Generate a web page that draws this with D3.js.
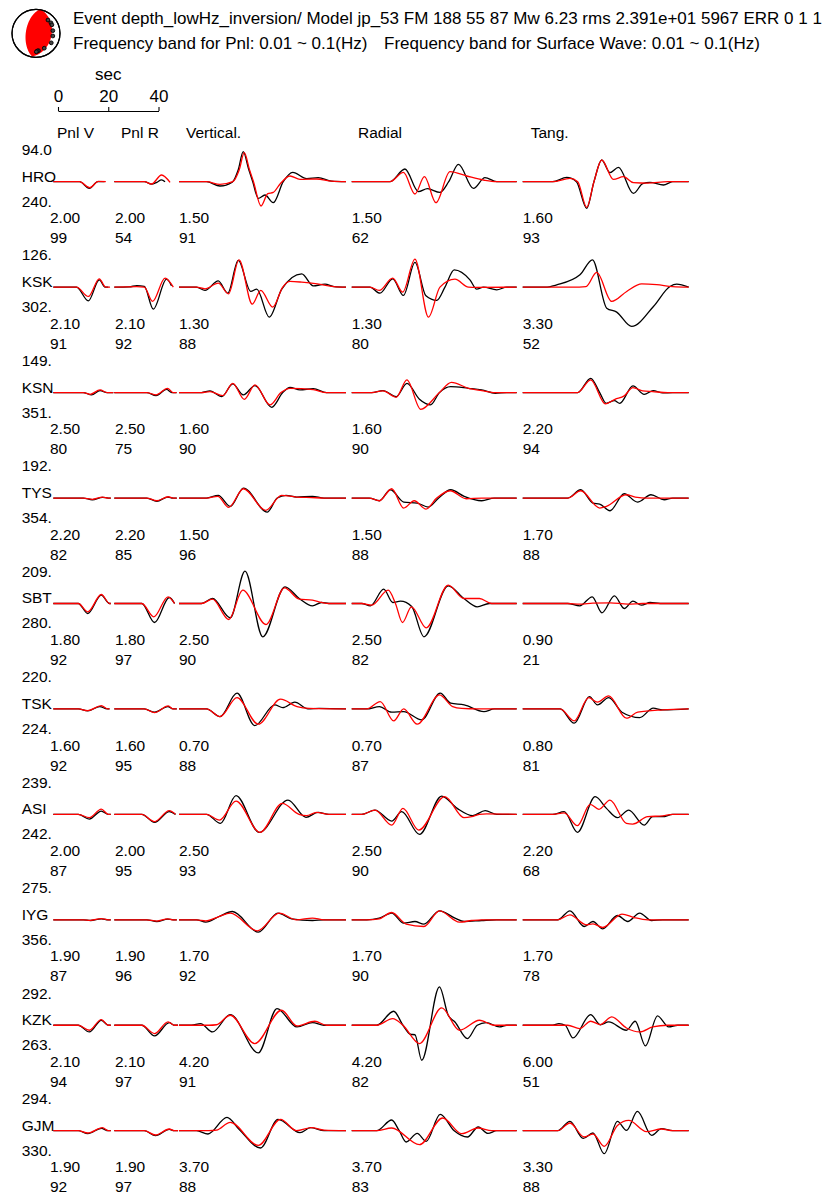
<!DOCTYPE html>
<html>
<head>
<meta charset="utf-8">
<script src="https://cdn.jsdelivr.net/npm/d3@7"></script>
<style>
  body { margin: 0; background: #fff; }
  text { font-family: "Liberation Sans", Arial, Helvetica, sans-serif; fill: #000; }
</style>
</head>
<body>
<svg id="chart" width="823" height="1199"></svg>
<script>
// ---- event / header info ----
const titleLine = "Event depth_lowHz_inversion/ Model jp_53 FM 188 55 87 Mw 6.23 rms 2.391e+01 5967 ERR 0 1 1";
const bandPnl = "Frequency band for Pnl: 0.01 ~ 0.1(Hz)";
const bandSurf = "Frequency band for Surface Wave: 0.01 ~ 0.1(Hz)";
const focalMech = [188, 55, 87];            // strike, dip, rake
const stationMarks = [[42, 0.745], [55, 0.76], [62, 0.75], [81, 0.71], [99, 0.71],
                      [122, 0.75], [151, 0.71], [172, 0.73], [176, 0.74], [179, 0.77]]; // azimuth, radius fraction

// ---- time scale bar ----
const scaleTicks = [0, 20, 40];

// ---- station table ----
const components = ["Pnl V", "Pnl R", "Vertical.", "Radial", "Tang."];
const stations = ["HRO", "KSK", "KSN", "TYS", "SBT", "TSK", "ASI", "IYG", "KZK", "GJM"];
const distances = ["94.0", "126.", "149.", "192.", "209.", "220.", "239.", "275.", "292.", "294."];
const azimuths = ["240.", "302.", "351.", "354.", "280.", "224.", "242.", "356.", "263.", "330."];
const timeShifts = [
  ["2.00", "2.00", "1.50", "1.50", "1.60"],
  ["2.10", "2.10", "1.30", "1.30", "3.30"],
  ["2.50", "2.50", "1.60", "1.60", "2.20"],
  ["2.20", "2.20", "1.50", "1.50", "1.70"],
  ["1.80", "1.80", "2.50", "2.50", "0.90"],
  ["1.60", "1.60", "0.70", "0.70", "0.80"],
  ["2.00", "2.00", "2.50", "2.50", "2.20"],
  ["1.90", "1.90", "1.70", "1.70", "1.70"],
  ["2.10", "2.10", "4.20", "4.20", "6.00"],
  ["1.90", "1.90", "3.70", "3.70", "3.30"]
];
const correlations = [
  ["99", "54", "91", "62", "93"],
  ["91", "92", "88", "80", "52"],
  ["80", "75", "90", "90", "94"],
  ["82", "85", "96", "88", "88"],
  ["92", "97", "90", "82", "21"],
  ["92", "95", "88", "87", "81"],
  ["87", "95", "93", "90", "68"],
  ["87", "96", "92", "90", "78"],
  ["94", "97", "91", "82", "51"],
  ["92", "97", "88", "83", "88"]
];

// ---- waveforms: [seconds from window start, amplitude] at extrema ----
// each station: [Pnl V, Pnl R, Vertical, Radial, Tangential]
const obsHRO = [
  [[0,0],[10.5,0],[14.4,-6.7],[17.8,0],[20.5,0]],
  [[0,0],[12,0],[14.9,-2.5],[17,-0.6],[18.9,1.8],[20.3,0]],
  [[0,0],[11,0],[16.4,-4.3],[21.3,-0.5],[23.7,12],[25.7,30],[27.8,13],[29.5,0],[31.7,-16.7],[34.4,-13.3],[37.7,-21],[41.7,0],[45.5,9.3],[51.1,3],[55.7,4],[61,0.5],[66.8,0]],
  [[0,0],[15.3,0],[21.3,12.7],[26.7,-10],[30.3,-7],[35.3,-10.7],[38.8,0],[42.7,17.3],[48.7,-6.7],[53.3,4],[58,0],[66,0]],
  [[0,0],[12,0],[17.6,4.3],[21.5,0],[25.6,-26.7],[28.5,0],[31.6,21.7],[34.9,9],[38.3,14.3],[44.3,-11.7],[48,-2],[50.9,-0.7],[56.3,-3.3],[60,0],[66.4,0]]
];
const synHRO = [
  [[0,0],[10.5,0],[14.6,-6],[18,0.3],[21,0]],
  [[0,0],[12,0],[14.9,-2.3],[18.9,6.7],[22.3,-0.7]],
  [[0,0],[11,0],[16.4,-2.7],[21.5,0],[24.1,12],[26.1,29],[28.2,12],[29.8,0],[32.8,-24.3],[35.5,-12],[37.7,-10.7],[40.5,-2],[44.4,5.7],[48.4,2.3],[55.1,2.7],[61,0.5],[66.8,0]],
  [[0,0],[15.3,0],[20.7,9.3],[25.3,-12.3],[29.1,5],[33.7,-21],[39.3,10],[46,5.7],[52.7,1.7],[58,0],[66,0]],
  [[0,0],[12,0],[18.9,3.3],[22,0],[25.6,-25.7],[28.5,0],[31.6,21.7],[36.3,2.3],[40.3,5],[44.3,-1],[50,-1.5],[58,0],[66.4,0]]
];
const obsKSK = [
  [[0,0],[9.3,0],[14,-13.7],[18.4,7.3],[20.7,0],[22,0]],
  [[0,0],[6,0.3],[9,1.5],[12,0.8],[15.6,-22],[20.9,8],[22.9,1.3]],
  [[0,0],[7,0],[10.4,-3.3],[15.7,6.3],[19.5,-6],[23.7,26.7],[28.7,-4.3],[31.1,-2],[36.1,-30],[41.1,-2],[49.1,13.3],[53.7,1.3],[58.4,3],[62,0.5],[66.8,0]],
  [[0,0],[7.3,0],[11.3,-6],[16.4,8.3],[20.7,-8.3],[25.3,24.7],[29.7,-8.7],[34,-13.3],[37.3,0],[41,17.3],[47.3,7.3],[50,-2],[52.7,0],[58,-2.7],[62,0],[66,0]],
  [[0,0],[9,0],[13.6,2.3],[22.9,12.3],[27.9,27.3],[33.6,-21],[37.6,-25],[43.6,-39.3],[52.3,-19.3],[58.9,0.7],[61.6,3],[66.4,0]]
];
const synKSK = [
  [[0,0],[9.3,0],[14,-9.3],[18.4,8.3],[21,0],[22.7,0]],
  [[0,0],[9,0.5],[12,0],[15.3,-14.3],[20.3,9],[23.6,0]],
  [[0,0],[7,0],[10.4,-1.7],[15.7,4],[19.8,-6.7],[24,27.3],[29.3,-17],[32.7,-3.3],[37.5,-20],[41.5,0],[44.4,5.7],[49.1,5],[55.3,3.3],[62,0.5],[66.8,0]],
  [[0,0],[7.3,0],[11,-3.3],[16.4,9],[20.4,-5],[25.3,28],[30.7,-30],[35.3,0],[41.3,8],[46.7,0],[50,-0.3],[66,0]],
  [[0,0],[20,0],[25.3,0.5],[29.6,14.7],[35.6,-14.3],[41.6,-4.3],[47.6,3.3],[53.6,2.5],[60,0.5],[66.4,0]]
];
const obsKSN = [
  [[0,0],[12,0],[15.3,-2.3],[18.7,2],[21.5,0],[24,0]],
  [[0,0],[13,0],[16.7,-3],[20.9,3.3],[23,0],[24.9,0]],
  [[0,0],[9,0],[12.4,1.7],[17.1,-4],[21.5,8.7],[25.7,-2.3],[30.4,7],[37.1,-14.7],[41.5,0],[44.4,5.3],[48.4,2.7],[53.7,4],[59,0],[66.8,0]],
  [[0,0],[8,0],[12.5,2],[17.8,-4],[22.1,9.3],[27.1,-6.7],[31.5,-12.3],[35.1,0],[39.6,6],[46.7,4.3],[52,2.7],[57.4,-0.7],[62,0],[66,0]],
  [[0,0],[22,0],[27.2,14.3],[30.8,0],[33.4,-10.7],[36.7,-8],[38.8,-10.7],[44.1,6.7],[48.6,-1.7],[52.2,2],[56,-0.3],[60,0],[66.4,0]]
];
const synKSN = [
  [[0,0],[12,0],[14.7,-1.7],[18.7,2.7],[21.5,0],[24,0]],
  [[0,0],[13,0],[16.7,-2.3],[21.3,4.3],[23.5,0],[24.9,0]],
  [[0,0],[9,0],[12.4,1],[17.5,-3],[21.5,9.3],[26.1,-6.7],[30.4,7.7],[36.4,-12.3],[40.8,0],[44.4,4.3],[53.7,3],[59,0],[66.8,0]],
  [[0,0],[8,0],[12.5,1.7],[17.8,-4.7],[22.1,12.7],[27.6,-16.7],[35.1,0],[39.9,10.3],[46.7,4.3],[52,2],[57.4,0],[66,0]],
  [[0,0],[22,0],[27.2,12.7],[33.1,-11.3],[36.9,-6.7],[40.6,-3.3],[44.1,5],[48,1.7],[52,1],[58,0],[66.4,0]]
];
const obsTYS = [
  [[0,0],[12,0],[15.6,-1.7],[19.7,0.7],[22,0],[23,0]],
  [[0,0],[13,0],[17,-3.3],[21.4,1],[23.5,0],[25,0]],
  [[0,0],[11,0],[15.7,2.7],[20.5,-8.3],[25.8,10],[35.3,-14],[39.3,0],[42.8,2.7],[47,1],[53.4,1.7],[58,0],[66.8,0]],
  [[0,0],[7,0],[11.1,-2.7],[15.5,8.3],[20.8,-4],[26.2,-5],[30.6,-9],[34.8,0],[39.6,8.3],[45,1.7],[52,-2.7],[57,0],[66,0]],
  [[0,0],[18,0],[23.2,8.3],[28.1,-5],[30.8,-6],[34.9,-12.7],[40.6,4.3],[45.9,-4],[51.3,3.3],[56.6,-1.7],[60,0],[66.4,0]]
];
const synTYS = [
  [[0,0],[12,0],[15.6,-1.3],[19.7,1],[22,0],[23,0]],
  [[0,0],[13,0],[17,-2.7],[21.6,1.3],[23.5,0],[25,0]],
  [[0,0],[11,0],[15.5,1.7],[19.9,-9.3],[25.8,9.3],[34.7,-12.3],[41,2.7],[47,1],[53,0.5],[58,0],[66.8,0]],
  [[0,0],[7,0],[11.1,-2.7],[16,9.3],[20.8,-10],[25,-2.7],[29.7,-11],[34,0],[39.4,7.3],[45.8,-0.7],[52,0],[66,0]],
  [[0,0],[18,0],[23.2,7.3],[30.8,-10],[33.5,-8.3],[41.4,3.3],[45,1],[50,0],[66.4,0]]
];
const obsSBT = [
  [[0,0],[10,0],[13.8,-10],[19.2,8.3],[22.5,0],[23,0]],
  [[0,0],[11,0],[16.1,-19],[22,6],[24.1,0]],
  [[0,0],[9,0],[13.4,5],[20.5,-14.3],[26.4,32.3],[33.5,-33.3],[42.4,16.7],[48.1,5],[53.4,-2.3],[57,1],[60,0],[66.8,0]],
  [[0,0],[4,0],[7.5,-2.3],[12.8,14.3],[16.4,1],[19.5,2.3],[24,-3],[28.9,-33.3],[38.6,17.7],[44.9,5],[50.2,-3.3],[55,0],[66,0]],
  [[0,0],[18,0],[22.8,-2.3],[27.8,6.7],[31.7,-9.3],[36.7,7.7],[40.6,-5],[44.1,2.3],[47.5,-1.7],[51,1],[55,0],[66.4,0]]
];
const synSBT = [
  [[0,0],[10,0],[13.8,-8.3],[19.2,9],[22.5,0],[23,0]],
  [[0,0],[11,0],[15.8,-13.3],[21.5,6.7],[24.1,0]],
  [[0,0],[9,0],[13.4,4.3],[19.9,-16],[25.5,13.3],[34.8,-21],[42.2,15.7],[48.1,4.3],[53.4,3.3],[57,1],[60,0],[66.8,0]],
  [[0,0],[4,0],[8,-1.7],[14.6,13.3],[17.5,0],[20.3,-19],[23.9,-3.3],[29.8,-24.3],[38.6,18.3],[44.9,5],[51.1,5],[56,0],[66,0]],
  [[0,0],[18,0],[22.8,-0.7],[28,0.3],[35,0.7],[42,-0.7],[48,0],[66.4,0]]
];
const obsTSK = [
  [[0,0],[10,0],[13.8,-2],[18.6,2.3],[21.5,0],[22.5,0]],
  [[0,0],[12,0],[16.1,-3.3],[21.4,2.3],[23.5,0],[25,0]],
  [[0,0],[11,0],[16.4,-7.7],[23.2,15.7],[30.3,-16.7],[38.3,4],[41.5,1.3],[46.3,6.7],[51.6,0],[56,0.5],[66.8,0]],
  [[0,0],[6,0],[11.1,2.3],[16,-3.3],[20.8,-2.7],[28,-11],[35.4,15.7],[39.6,5.7],[45,4],[52.9,-2.7],[57,0],[66,0]],
  [[0,0],[15,0],[20.6,-14.3],[26.7,12.3],[29.9,4],[34.4,11.3],[39.7,-3.3],[46.8,-8.7],[52.2,0.7],[56,-1],[66.4,0]]
];
const synTSK = [
  [[0,0],[10,0],[13.8,-1.7],[19.2,3.3],[21.8,0],[22.5,0]],
  [[0,0],[12,0],[16.1,-3.7],[21.6,3],[23.5,0],[25,0]],
  [[0,0],[11,0],[16.4,-7.7],[23.2,11.3],[31.7,-15.3],[40.6,9.7],[47.2,2.3],[52,0.5],[66.8,0]],
  [[0,0],[6,0],[11.4,7.3],[16.8,-12],[20.8,0],[26.2,-15.3],[35.1,14],[40.4,2.3],[44,0.5],[50,0],[66,0]],
  [[0,0],[15,0],[20.6,-12],[26.4,11.3],[29.9,6.7],[34.4,13],[41.5,-9.3],[46,-3.3],[56,-1],[66.4,0]]
];
const obsASI = [
  [[0,0],[10,0],[14.4,-4.7],[19.2,3.3],[22,0],[23,0]],
  [[0,0],[11,0],[16.1,-8],[22,2.7],[24.5,0]],
  [[0,0],[11,0],[16.6,-9],[22.8,18.7],[32.1,-18],[43.6,14.3],[50.8,-3],[55.6,2],[60,0],[66.8,0]],
  [[0,0],[4,0],[9.3,4.3],[16,-6.7],[20,2.7],[27.1,-20],[36,18.3],[42.2,6],[48.4,-1.3],[53.4,3.7],[58,0],[66,0]],
  [[0,0],[12,0],[16.6,2.7],[21.9,-18],[29,17.7],[33.5,6],[37.9,-3.3],[42.4,4.3],[48.6,-10.7],[52,-2.3],[56,-2.3],[60,0],[66.4,0]]
];
const synASI = [
  [[0,0],[10,0],[14.4,-3.3],[19.2,5.3],[22,0],[23,0]],
  [[0,0],[11,0],[16.1,-7.3],[22,3.7],[24.5,0]],
  [[0,0],[11,0],[16.2,-5.7],[22.8,13.3],[32.4,-18],[41.3,11],[48,0],[51,-1.3],[55,2],[60,0],[66.8,0]],
  [[0,0],[4,0],[9.3,4.3],[16,-10.7],[20.5,6],[26.8,-15.7],[37.2,17.7],[44.9,-3.3],[48,-2.3],[51,0],[54,0.5],[66,0]],
  [[0,0],[12,0],[16.6,1.5],[21.9,-11.3],[27,10],[30.5,5],[34.9,14.3],[41.5,-9],[44,-9.7],[50,-2.3],[56,-1.5],[60,0],[66.4,0]]
];
const obsIYG = [
  [[0,0],[12,0],[14.9,-0.7],[19.2,1],[22,0],[23,0]],
  [[0,0],[13,0],[17,-1.7],[21.4,0.7],[23.5,0],[25,0]],
  [[0,0],[7,0],[10.7,-2.3],[16,3.3],[21.4,8.3],[31.7,-12.3],[39.6,6.7],[45,1],[53.4,-0.7],[58,0],[66.8,0]],
  [[0,0],[6,0],[11,1.7],[16,6.7],[20.8,-3.3],[25.3,-1.7],[28.9,-4.3],[35.1,9],[41.3,1.7],[45,-1.7],[52,-0.7],[58,0],[66,0]],
  [[0,0],[14,0],[18.9,9],[24.6,-6.7],[28.1,-1.7],[32,-9],[37.9,4.3],[42,-1.7],[46.8,6.7],[51.5,-0.7],[56,0],[66.4,0]]
];
const synIYG = [
  [[0,0],[12,0],[14.9,-0.5],[19.2,1.2],[22,0],[23,0]],
  [[0,0],[13,0],[17,-1.3],[21.4,1],[23.5,0],[25,0]],
  [[0,0],[7,0],[10.7,-1],[16,3.3],[20.5,6.7],[31.4,-11],[40.1,6.7],[47,0],[53.4,1.7],[58,0],[66.8,0]],
  [[0,0],[6,0],[11,1],[16,7.3],[21.8,-4.3],[28.9,-6.7],[35.1,9],[43.1,-2.3],[48,-0.7],[52,0],[66,0]],
  [[0,0],[14,0],[18.9,5],[25.4,-5],[28.1,-4],[32,-7.7],[39.7,5.7],[44.5,2.3],[50,0],[66.4,0]]
];
const obsKZK = [
  [[0,0],[10,0],[14.4,-6.7],[19.2,5],[22,0],[23,0]],
  [[0,0],[11,0],[16.1,-10.7],[22,2.7],[24,0],[25.5,0]],
  [[0,0],[5,0],[8.6,1.7],[13.4,-6.7],[20.5,10.7],[31.7,-27.7],[39.2,16.7],[47.2,-1.7],[53.4,2.7],[58,0],[66.8,0]],
  [[0,0],[10,0],[16.8,14],[20.5,0],[23.5,-9],[25.3,-9.5],[28,-35],[35.1,38.3],[38.6,10],[41.3,3.3],[46.3,-13.3],[50.2,0],[53.8,2.7],[59.1,-1.7],[62,0],[66,0]],
  [[0,0],[12,0],[14.5,1.7],[17,0],[20.1,-12.7],[27.2,10.7],[31,0.5],[34.4,3.3],[41.5,-5],[45,4],[49.1,-20.7],[53.9,9.3],[58.4,-1.7],[62,0],[66.4,0]]
];
const synKZK = [
  [[0,0],[10,0],[14.4,-5],[19.2,5.7],[22,0],[23,0]],
  [[0,0],[11,0],[16.1,-8.3],[21.5,3.3],[24,0],[25.5,0]],
  [[0,0],[12,0],[15,0.5],[20.5,10],[30.3,-18.3],[41,15],[47.2,-0.7],[54.3,4],[59,0],[66.8,0]],
  [[0,0],[10,0],[16.4,6.7],[20.5,0],[27.1,-18.3],[36,17.3],[43.1,-5],[51.1,5],[57,0],[66,0]],
  [[0,0],[18,0],[22.8,-3.3],[27.2,4],[31,0.7],[35.6,8.3],[41.5,-2.7],[46.8,-6.7],[52,-1.7],[58,0],[66.4,0]]
];
const obsGJM = [
  [[0,0],[10,0],[13.8,-3],[19.2,2.3],[22,0],[23,0]],
  [[0,0],[12,0],[16.5,-5],[22,1.3],[24,0],[25.5,0]],
  [[0,0],[7,0],[11.6,-3.3],[19.2,13.3],[24,1.5],[32.6,-17.3],[39.6,11.3],[48.4,-2],[52.6,3],[58,0],[66.8,0]],
  [[0,0],[10,0],[16,10.7],[19,0],[21.8,-11.3],[26.2,-2.7],[29.8,-10.7],[35.4,16.3],[41,0],[46.3,-6.3],[50.6,3.7],[54.5,-2.7],[58,0],[66,0]],
  [[0,0],[14,0],[18.9,9.3],[24.2,-7.7],[28.1,-2.3],[32.6,-23],[37.9,9.3],[41.5,0.3],[45.9,19.3],[51.6,-4.7],[55.5,2],[60,0],[66.4,0]]
];
const synGJM = [
  [[0,0],[10,0],[13.8,-2.3],[19.7,3],[22,0],[23,0]],
  [[0,0],[12,0],[16.5,-4.3],[22,1.7],[24,0],[25.5,0]],
  [[0,0],[12,0],[15,0.5],[20.5,8.3],[31.7,-14.7],[40.6,11.3],[47,0],[53,3],[58,0.5],[66.8,0]],
  [[0,0],[10,0],[16,2.7],[27.1,-14],[36.4,12.7],[44,-3],[50.5,2.7],[56,0],[66,0]],
  [[0,0],[14,0],[18.9,7.7],[24.6,-6.3],[28.1,-3.3],[32.6,-15.7],[37.9,5.3],[42.4,10.3],[49.5,-1],[55.5,1.7],[60,0],[66.4,0]]
];

const observed = [obsHRO, obsKSK, obsKSN, obsTYS, obsSBT, obsTSK, obsASI, obsIYG, obsKZK, obsGJM];
const synthetic = [synHRO, synKSK, synKSN, synTYS, synSBT, synTSK, synASI, synIYG, synKZK, synGJM];

// ---- layout ----
const svg = d3.select("#chart");
const FONT = 15.5;
const rowY = d3.scaleLinear().domain([0, stations.length - 1]).range([181.7, 1130.7]);
const secToPx = d3.scaleLinear().domain([0, 40]).range([0, 100]);
const ampToPx = d3.scaleLinear().domain([-40, 40]).range([40, -40]);
const panelX = [53.3, 114.3, 179, 351.7, 522.7];
const labelX = [50, 115, 179, 351.7, 522.7];
const headerX = [57, 121, 186, 358, 530.7];

// ---- title ----
svg.append("text").attr("x", 73).attr("y", 24).attr("font-size", 17).text(titleLine);
svg.append("text").attr("x", 73).attr("y", 49).attr("font-size", 17).text(bandPnl);
svg.append("text").attr("x", 384).attr("y", 49).attr("font-size", 17).text(bandSurf);

// ---- focal mechanism (lower hemisphere, equal area) ----
const ball = { cx: 36, cy: 33.3, r: 24 };
const rad = Math.PI / 180;
function auxPlane(strike, dip, rake) {
  const f = strike * rad, d = dip * rad, l = rake * rad;
  // slip vector (N, E, Down) is the normal of the auxiliary plane
  let u = [Math.cos(l) * Math.cos(f) + Math.sin(l) * Math.cos(d) * Math.sin(f),
           Math.cos(l) * Math.sin(f) - Math.sin(l) * Math.cos(d) * Math.cos(f),
           -Math.sin(l) * Math.sin(d)];
  if (u[2] > 0) u = u.map(v => -v);
  const dip2 = Math.acos(-u[2]) / rad;
  const strike2 = (Math.atan2(-u[0], u[1]) / rad + 360) % 360;
  return [strike2, dip2];
}
function planeTrace(strike, dip) {
  const f = strike * rad, d = dip * rad;
  const s = [Math.cos(f), Math.sin(f), 0];
  const dd = [-Math.cos(d) * Math.sin(f), Math.cos(d) * Math.cos(f), Math.sin(d)];
  return d3.range(0, 181, 3).map(a => {
    const t = a * rad;
    const v = s.map((c, k) => Math.cos(t) * c + Math.sin(t) * dd[k]);
    const plunge = Math.asin(Math.min(1, v[2]));
    const trend = Math.atan2(v[1], v[0]);
    const rr = ball.r * Math.SQRT2 * Math.sin((Math.PI / 2 - plunge) / 2);
    return [ball.cx + rr * Math.sin(trend), ball.cy - rr * Math.cos(trend)];
  });
}
const p1 = [focalMech[0], focalMech[1]];
const p2 = auxPlane(...focalMech);
const lens = planeTrace(...p1).concat(planeTrace(...p2));
const gBall = svg.append("g");
gBall.append("circle").attr("cx", ball.cx).attr("cy", ball.cy).attr("r", ball.r)
  .attr("fill", "#fff").attr("stroke", "#000").attr("stroke-width", 1.2);
gBall.append("path").attr("d", d3.line()(lens) + "Z").attr("fill", "#ff0000");
gBall.selectAll("circle.sta").data(stationMarks).join("circle").attr("class", "sta")
  .attr("cx", d => ball.cx + d[1] * ball.r * Math.sin(d[0] * rad))
  .attr("cy", d => ball.cy - d[1] * ball.r * Math.cos(d[0] * rad))
  .attr("r", 1.9).attr("fill", "#444").attr("stroke", "#000").attr("stroke-width", 0.9);
gBall.append("circle").attr("cx", ball.cx).attr("cy", ball.cy).attr("r", ball.r)
  .attr("fill", "none").attr("stroke", "#000").attr("stroke-width", 1.2);

// ---- time scale bar ----
const barScale = d3.scaleLinear().domain([0, 40]).range([58, 158.5]);
svg.append("text").attr("x", barScale(20)).attr("y", 80).attr("font-size", 17)
  .attr("text-anchor", "middle").text("sec");
const barAxis = d3.axisTop(barScale).tickValues(scaleTicks).tickSizeInner(4).tickSizeOuter(0).tickPadding(5);
const gBar = svg.append("g").attr("transform", "translate(0,111)").call(barAxis);
gBar.select(".domain").attr("stroke", "#000").attr("stroke-width", 1.1);
gBar.selectAll(".tick line").attr("stroke", "#000").attr("stroke-width", 1.1);
gBar.selectAll(".tick text").attr("font-size", 17).attr("font-family", null).attr("fill", "#000");

// ---- component headers ----
svg.selectAll("text.hdr").data(components).join("text").attr("class", "hdr")
  .attr("x", (d, i) => headerX[i]).attr("y", 138).attr("font-size", FONT).text(d => d);

// ---- stations ----
stations.forEach((name, i) => {
  const y0 = rowY(i);
  const g = svg.append("g");
  g.append("text").attr("x", 21.7).attr("y", y0 - 26.7).attr("font-size", FONT).text(distances[i]);
  g.append("text").attr("x", 21.7).attr("y", y0).attr("font-size", FONT).text(name);
  g.append("text").attr("x", 21.7).attr("y", y0 + 25).attr("font-size", FONT).text(azimuths[i]);
  components.forEach((c, k) => {
    g.append("text").attr("x", labelX[k]).attr("y", y0 + 41.6).attr("font-size", FONT).text(timeShifts[i][k]);
    g.append("text").attr("x", labelX[k]).attr("y", y0 + 61.6).attr("font-size", FONT).text(correlations[i][k]);
    const line = d3.line()
      .x(d => panelX[k] + secToPx(d[0]))
      .y(d => y0 + ampToPx(d[1]))
      .curve(d3.curveMonotoneX);
    g.append("path").attr("d", line(observed[i][k])).attr("fill", "none")
      .attr("stroke", "#000").attr("stroke-width", 1.3);
    g.append("path").attr("d", line(synthetic[i][k])).attr("fill", "none")
      .attr("stroke", "#ff0000").attr("stroke-width", 1.3);
  });
});
</script>
</body>
</html>
